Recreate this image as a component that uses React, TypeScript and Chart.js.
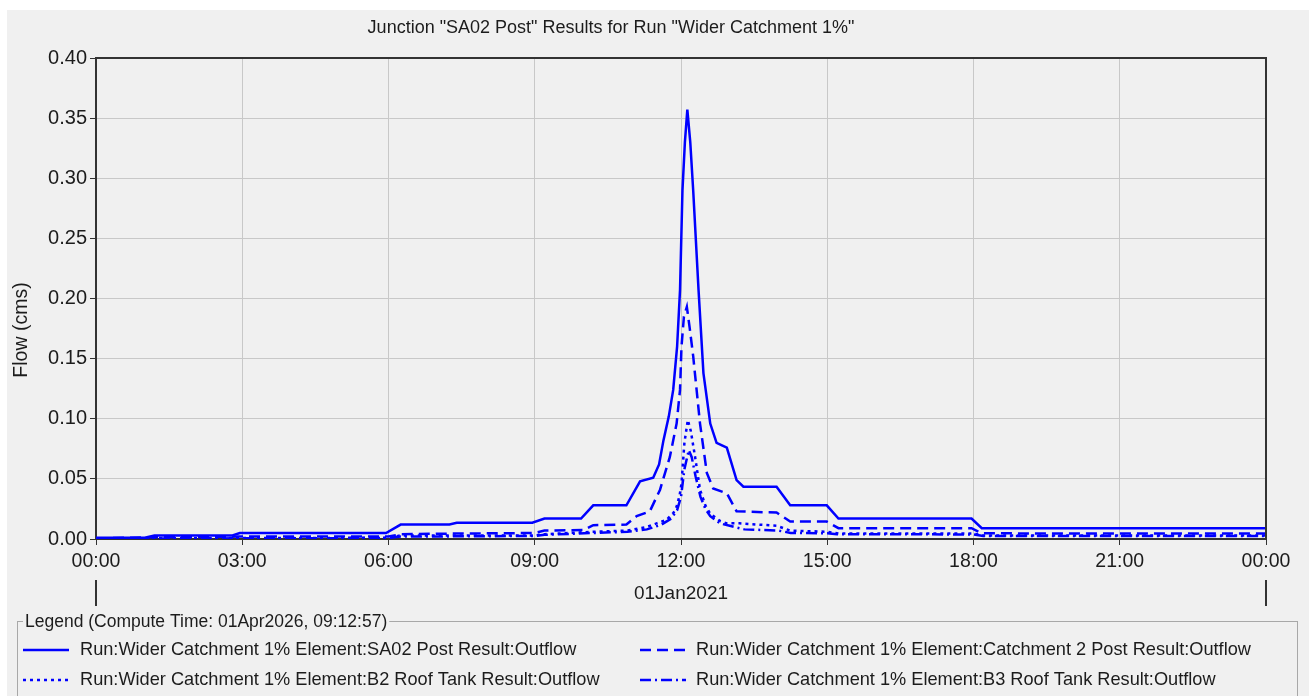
import React, { useEffect, useRef } from 'react';
import { Chart, registerables } from 'chart.js';

Chart.register(...registerables);

const FONT = '"Liberation Sans", Arial, sans-serif';
const TEXT_COLOR = '#1c1c1c';
const LINE_COLOR = '#0000ff';

const chartTitle = 'Junction "SA02 Post" Results for Run "Wider Catchment 1%"';
const yAxisTitle = 'Flow (cms)';
const dateLabel = '01Jan2021';
const legendTitle = 'Legend (Compute Time: 01Apr2026, 09:12:57)';

const xTickHours = [0, 3, 6, 9, 12, 15, 18, 21, 24];
const xTickLabels = ['00:00', '03:00', '06:00', '09:00', '12:00', '15:00', '18:00', '21:00', '00:00'];
const yTickValues = [0, 0.05, 0.1, 0.15, 0.2, 0.25, 0.3, 0.35, 0.4];
const yTickLabels = ['0.00', '0.05', '0.10', '0.15', '0.20', '0.25', '0.30', '0.35', '0.40'];

const seriesLabels = [
  'Run:Wider Catchment 1% Element:SA02 Post Result:Outflow',
  'Run:Wider Catchment 1% Element:Catchment 2 Post Result:Outflow',
  'Run:Wider Catchment 1% Element:B2 Roof Tank Result:Outflow',
  'Run:Wider Catchment 1% Element:B3 Roof Tank Result:Outflow',
];

// SA02 Post (solid)
const sa02Hours = [0, 1.0, 1.2, 2.8, 2.95, 5.95, 6.25, 7.25, 7.4, 8.95, 9.2, 9.95, 10.2, 10.88, 11.16, 11.43, 11.55, 11.64, 11.75, 11.84, 11.92, 11.98, 12.03, 12.08, 12.13, 12.19, 12.25, 12.36, 12.46, 12.6, 12.73, 12.94, 13.14, 13.28, 13.96, 14.24, 14.99, 15.23, 17.96, 18.17, 24];
const sa02Flow = [0.001, 0.001, 0.003, 0.003, 0.005, 0.005, 0.012, 0.012, 0.0135, 0.0135, 0.017, 0.017, 0.028, 0.028, 0.048, 0.051, 0.062, 0.082, 0.102, 0.124, 0.16, 0.207, 0.29, 0.33, 0.357, 0.33, 0.29, 0.207, 0.138, 0.096, 0.08, 0.076, 0.049, 0.0435, 0.0435, 0.028, 0.028, 0.017, 0.017, 0.009, 0.009];

// Catchment 2 Post (dashed)
const catch2Hours = [0, 1.2, 2.9, 6.0, 6.25, 7.3, 9.0, 9.2, 10.0, 10.2, 10.88, 11.09, 11.36, 11.57, 11.77, 11.91, 11.98, 12.01, 12.06, 12.12, 12.18, 12.25, 12.39, 12.53, 12.66, 12.94, 13.14, 13.96, 14.24, 14.99, 15.23, 17.96, 18.17, 24];
const catch2Flow = [0.0005, 0.0015, 0.002, 0.002, 0.004, 0.0045, 0.005, 0.007, 0.0075, 0.0115, 0.012, 0.019, 0.023, 0.041, 0.068, 0.096, 0.124, 0.16, 0.185, 0.193, 0.175, 0.152, 0.096, 0.055, 0.042, 0.038, 0.023, 0.022, 0.0145, 0.0145, 0.009, 0.009, 0.0047, 0.0045];

// B2 Roof Tank (dotted)
const b2Hours = [0, 6.0, 6.25, 9.0, 9.2, 10.2, 10.9, 11.3, 11.5, 11.7, 11.85, 11.91, 11.97, 12.01, 12.07, 12.14, 12.2, 12.29, 12.39, 12.5, 12.6, 12.8, 12.94, 13.2, 13.96, 14.24, 15.0, 15.23, 18.0, 18.2, 24];
const b2Flow = [0.0005, 0.001, 0.003, 0.003, 0.004, 0.006, 0.007, 0.01, 0.013, 0.0158, 0.022, 0.027, 0.036, 0.046, 0.08, 0.099, 0.09, 0.068, 0.041, 0.028, 0.021, 0.015, 0.013, 0.013, 0.011, 0.007, 0.006, 0.0045, 0.0045, 0.003, 0.003];

// B3 Roof Tank (dash-dot)
const b3Hours = [0, 6.0, 6.25, 9.0, 9.2, 10.2, 10.9, 11.3, 11.6, 11.8, 11.92, 12.0, 12.07, 12.16, 12.22, 12.3, 12.4, 12.5, 12.6, 12.8, 13.0, 13.3, 14.0, 14.25, 15.0, 15.2, 18.0, 18.2, 24];
const b3Flow = [0.0003, 0.0008, 0.002, 0.0025, 0.0035, 0.005, 0.006, 0.008, 0.012, 0.017, 0.024, 0.035, 0.058, 0.074, 0.068, 0.052, 0.035, 0.025, 0.019, 0.013, 0.011, 0.008, 0.007, 0.005, 0.0048, 0.004, 0.0038, 0.0025, 0.0025];

const seriesDashes: number[][] = [[], [11, 6], [3, 4], [11, 4, 2, 4]];

const toPoints = (xs: number[], ys: number[]) => xs.map((x, i) => ({ x, y: ys[i] }));

const decorPlugin = {
  id: 'decor',
  afterDraw(chart: any) {
    const ctx: CanvasRenderingContext2D = chart.ctx;
    const { left, right, top, bottom } = chart.chartArea;
    const xs = chart.scales.x;
    ctx.save();

    // frame top & right
    ctx.strokeStyle = '#333333';
    ctx.lineWidth = 2;
    ctx.beginPath();
    ctx.moveTo(left, top);
    ctx.lineTo(right, top);
    ctx.lineTo(right, bottom);
    ctx.stroke();

    // title
    ctx.fillStyle = TEXT_COLOR;
    ctx.textAlign = 'center';
    ctx.textBaseline = 'middle';
    ctx.font = `18px ${FONT}`;
    ctx.fillText(chartTitle, 604, 18);

    // y axis title
    ctx.save();
    ctx.translate(15, 320);
    ctx.rotate(-Math.PI / 2);
    ctx.font = `19.5px ${FONT}`;
    ctx.fillText(yAxisTitle, 0, 0);
    ctx.restore();

    // date bracket ticks
    ctx.strokeStyle = '#333333';
    ctx.lineWidth = 2;
    [xTickHours[0], xTickHours[xTickHours.length - 1]].forEach((h) => {
      const px = Math.round(xs.getPixelForValue(h));
      ctx.beginPath();
      ctx.moveTo(px, bottom + 41);
      ctx.lineTo(px, bottom + 67);
      ctx.stroke();
    });
    ctx.font = `19px ${FONT}`;
    ctx.fillText(dateLabel, (left + right) / 2, bottom + 55);

    // legend box
    ctx.strokeStyle = '#a8a8a8';
    ctx.lineWidth = 1;
    ctx.strokeRect(10.5, 611.5, 1280, 100);
    ctx.font = `17.5px ${FONT}`;
    ctx.textAlign = 'left';
    const tw = ctx.measureText(legendTitle).width;
    ctx.fillStyle = '#f0f0f0';
    ctx.fillRect(16, 603, tw + 4, 18);
    ctx.fillStyle = TEXT_COLOR;
    ctx.fillText(legendTitle, 18, 612);

    const positions = [
      { x0: 16, x1: 62, tx: 73, y: 640 },
      { x0: 633, x1: 679, tx: 689, y: 640 },
      { x0: 16, x1: 62, tx: 73, y: 670 },
      { x0: 633, x1: 679, tx: 689, y: 670 },
    ];
    chart.data.datasets.forEach((ds: any, i: number) => {
      const p = positions[i];
      ctx.strokeStyle = ds.borderColor;
      ctx.lineWidth = 2.5;
      ctx.setLineDash(ds.borderDash || []);
      ctx.beginPath();
      ctx.moveTo(p.x0, p.y);
      ctx.lineTo(p.x1, p.y);
      ctx.stroke();
      ctx.setLineDash([]);
      ctx.fillStyle = TEXT_COLOR;
      ctx.font = `18.2px ${FONT}`;
      ctx.fillText(ds.label, p.tx, p.y);
    });

    ctx.restore();
  },
};

export default function App() {
  const canvasRef = useRef<HTMLCanvasElement | null>(null);

  useEffect(() => {
    const canvas = canvasRef.current;
    if (!canvas) return;
    const seriesX = [sa02Hours, catch2Hours, b2Hours, b3Hours];
    const seriesY = [sa02Flow, catch2Flow, b2Flow, b3Flow];
    const chart = new Chart(canvas, {
      type: 'line',
      data: {
        datasets: seriesLabels.map((label, i) => ({
          label,
          data: toPoints(seriesX[i], seriesY[i]),
          borderColor: LINE_COLOR,
          borderWidth: 2.5,
          borderDash: seriesDashes[i],
          pointRadius: 0,
          tension: 0,
          fill: false,
        })),
      },
      options: {
        animation: false,
        responsive: false,
        maintainAspectRatio: false,
        layout: { padding: { top: 48, right: 43, bottom: 117, left: 0 } },
        plugins: {
          legend: { display: false },
          title: { display: false },
          tooltip: { enabled: false },
        },
        scales: {
          x: {
            type: 'linear',
            min: 0,
            max: 24,
            afterBuildTicks: (scale: any) => {
              scale.ticks = xTickHours.map((v) => ({ value: v }));
            },
            ticks: {
              autoSkip: false,
              maxRotation: 0,
              padding: 5,
              color: TEXT_COLOR,
              font: { family: FONT, size: 19.5 },
              callback: (v: any) => {
                const idx = xTickHours.indexOf(Number(v));
                return idx >= 0 ? xTickLabels[idx] : '';
              },
            },
            grid: { color: '#c8c8c8', lineWidth: 1, tickColor: '#333333', tickLength: 6 },
            border: { color: '#333333', width: 2 },
            afterFit: (scale: any) => {
              scale.height = 40;
            },
          },
          y: {
            type: 'linear',
            min: 0,
            max: 0.4,
            afterBuildTicks: (scale: any) => {
              scale.ticks = yTickValues.map((v) => ({ value: v }));
            },
            ticks: {
              autoSkip: false,
              padding: 3,
              color: TEXT_COLOR,
              font: { family: FONT, size: 20 },
              callback: (v: any) => {
                const idx = yTickValues.findIndex((t) => Math.abs(t - Number(v)) < 1e-9);
                return idx >= 0 ? yTickLabels[idx] : '';
              },
            },
            grid: { color: '#c8c8c8', lineWidth: 1, tickColor: '#333333', tickLength: 6 },
            border: { color: '#333333', width: 2 },
            afterFit: (scale: any) => {
              scale.width = 89;
            },
          },
        },
      },
      plugins: [decorPlugin],
    });
    return () => chart.destroy();
  }, []);

  return (
    <div
      style={{
        position: 'fixed',
        left: 7,
        top: 10,
        width: 1302,
        height: 686,
        background: '#f0f0f0',
        overflow: 'hidden',
      }}
    >
      <canvas ref={canvasRef} width={1302} height={686} style={{ display: 'block', width: 1302, height: 686 }} />
    </div>
  );
}
